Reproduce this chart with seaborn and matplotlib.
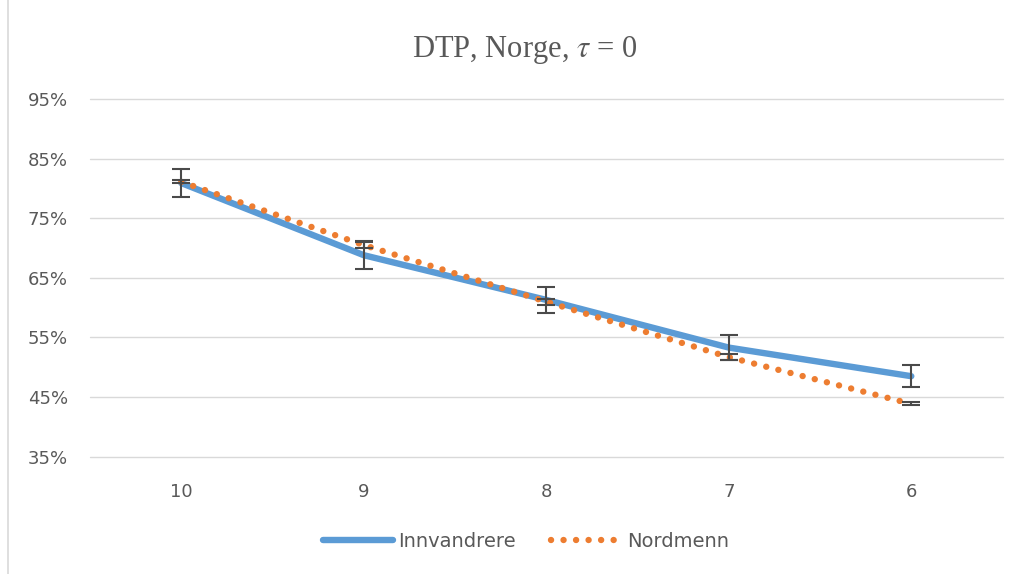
import numpy as np
import pandas as pd
import matplotlib.pyplot as plt
import seaborn as sns
from matplotlib.patches import Rectangle
from matplotlib.ticker import PercentFormatter

# data
categories = ["10", "9", "8", "7", "6"]
innvandrere = [80.9, 68.8, 61.3, 53.3, 48.5]
innvandrere_err = [2.4, 2.3, 2.2, 2.1, 1.85]
nordmenn = [81.1, 70.5, 61.0, 51.7, 43.85]
nordmenn_err = [0.25, 0.5, 0.5, 0.5, 0.25]

sns.set_style("white")
plt.rcParams['font.family'] = ['DejaVu Sans']
plt.rcParams['mathtext.fontset'] = 'stix'

grey = "#595959"
blue = "#5B9BD5"
orange = "#ED7D31"

df = pd.DataFrame({
  "kat": categories * 2,
  "verdi": innvandrere + nordmenn,
  "gruppe": ["Innvandrere"] * 5 + ["Nordmenn"] * 5,
})

fig = plt.figure(figsize=(10.23, 5.74), dpi=100)
ax = fig.add_axes([0.088, 0.2044, 0.892, 0.6231])

sns.lineplot(data=df[df.gruppe == "Innvandrere"], x="kat", y="verdi", ax=ax,
             color=blue, linewidth=4.6, label="Innvandrere", sort=False,
             solid_capstyle="round", zorder=3)
sns.lineplot(data=df[df.gruppe == "Nordmenn"], x="kat", y="verdi", ax=ax,
             color=orange, linewidth=4.6, label="Nordmenn", sort=False,
             zorder=4)
ax.lines[1].set_linestyle((0, (0.01, 1.95)))
ax.lines[1].set_dash_capstyle("round")

x = np.arange(len(categories))
ax.errorbar(x, innvandrere, yerr=innvandrere_err, fmt="none", ecolor="#4a4a4a",
            elinewidth=1.5, capsize=6.5, capthick=1.5, zorder=5)
ax.errorbar(x, nordmenn, yerr=nordmenn_err, fmt="none", ecolor="#4a4a4a",
            elinewidth=1.5, capsize=6.5, capthick=1.5, zorder=5)

ax.set_xlim(-0.5, 4.5)
ax.set_ylim(35, 95)
ax.set_yticks(range(35, 96, 10))
ax.yaxis.set_major_formatter(PercentFormatter(decimals=0))
ax.grid(True, axis="y", color="#D9D9D9", linewidth=1)
for gl in ax.get_ygridlines():
  gl.set_clip_on(False)
ax.set_axisbelow(True)
for s in ax.spines.values():
  s.set_visible(False)
ax.tick_params(axis="both", length=0, labelsize=13, labelcolor=grey)
ax.tick_params(axis="y", pad=16)
ax.tick_params(axis="x", pad=19)
ax.set_xlabel("")
ax.set_ylabel("")

fig.text(0.513, 0.913, r"DTP, Norge, $\tau$ = 0", ha="center", va="center",
         fontsize=22, color=grey, family="Liberation Serif")

ax.legend(loc="center", bbox_to_anchor=(0.514, 0.057), bbox_transform=fig.transFigure,
          ncol=2, frameon=False, fontsize=14, labelcolor=grey, handlelength=3.6,
          handletextpad=0.3, columnspacing=1.8)

fig.patches.append(Rectangle((0.008, -0.01), 1.0, 1.02, transform=fig.transFigure,
                             fill=False, edgecolor="#D9D9D9", linewidth=1.2))

plt.savefig("out.png", dpi=100)
